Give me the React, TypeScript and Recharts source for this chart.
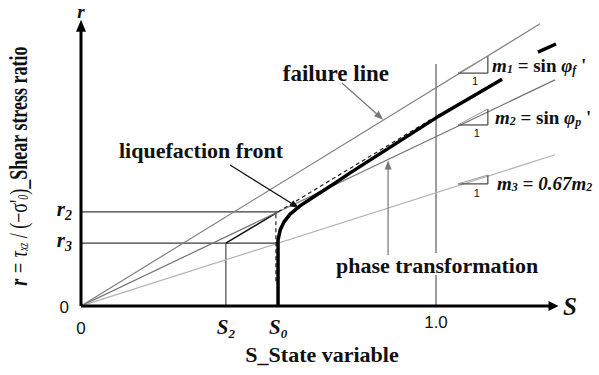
import {
  ComposedChart,
  Line,
  XAxis,
  YAxis,
  ReferenceLine,
  ReferenceDot
} from 'recharts'

// state variable S (x) and shear stress ratio r (y)
const S0 = 0.555
const S2 = 0.408
const R2 = 0.265
const R3 = 0.177

const xTicks = [0, S2, S0, 1.0]
const yTicks = [0, R3, R2]

const failureLine = [{ S: 0, r: 0 }, { S: 1.293, r: 0.795 }]
const phaseLine = [{ S: 0, r: 0 }, { S: 1.335, r: 0.637 }]
const m3Line = [{ S: 0, r: 0 }, { S: 1.335, r: 0.426 }]

const frontCurve = [
  { S: 0.555, r: 0 },
  { S: 0.555, r: 0.186 },
  { S: 0.561, r: 0.214 },
  { S: 0.572, r: 0.237 },
  { S: 0.589, r: 0.259 },
  { S: 0.617, r: 0.282 },
  { S: 0.659, r: 0.31 },
  { S: 0.715, r: 0.346 },
  { S: 0.758, r: 0.375 },
  { S: 1.0, r: 0.53 },
  { S: 1.186, r: 0.639 }
]
const frontTail = [{ S: 1.287, r: 0.715 }, { S: 1.338, r: 0.738 }]
const asymptote = [{ S: S0, r: R2 }, { S: 0.985, r: 0.525 }]
const dashedDrop = [{ S: 0.549, r: 0.07 }, { S: 0.549, r: R2 }]

const SERIF = '"Liberation Serif", "Times New Roman", serif'
const SANS = '"Liberation Sans", Arial, sans-serif'
const NB = '\u00a0'

type Pt = [number, number]

const arrowShape = (color: string, width: number, len = 10, half = 4) => (p: any) => {
  const { x1, y1, x2, y2 } = p
  const a = Math.atan2(y2 - y1, x2 - x1)
  const c = Math.cos(a)
  const s = Math.sin(a)
  const bx = x2 - len * c
  const by = y2 - len * s
  return (
    <g>
      <line x1={x1} y1={y1} x2={bx + c} y2={by + s} stroke={color} strokeWidth={width} />
      <polygon
        points={`${x2},${y2} ${bx - half * s},${by + half * c} ${bx + half * s},${by - half * c}`}
        fill={color}
      />
    </g>
  )
}

const seg = (id: string, a: Pt, b: Pt, stroke: string, width: number, shape?: any) => (
  <ReferenceLine
    key={id}
    segment={[{ x: a[0], y: a[1] }, { x: b[0], y: b[1] }]}
    stroke={stroke}
    strokeWidth={width}
    ifOverflow="visible"
    shape={shape}
  />
)

const note = (id: string, S: number, r: number, draw: (cx: number, cy: number) => any) => (
  <ReferenceDot
    key={id}
    x={S}
    y={r}
    r={0}
    ifOverflow="visible"
    shape={(p: any) => draw(p.cx, p.cy)}
  />
)

const boldText = (txt: string, size = 22) => (cx: number, cy: number) => (
  <text x={cx} y={cy} textAnchor="middle" dominantBaseline="central"
    fontFamily={SERIF} fontWeight="bold" fontSize={size} fill="#111">
    {txt}
  </text>
)

const slopeText = (sub: string, rhs: any) => (cx: number, cy: number) => (
  <text x={cx} y={cy} dominantBaseline="central" fontFamily={SERIF} fontWeight="bold" fontSize={19} fill="#111">
    <tspan fontStyle="italic">m</tspan>
    <tspan fontStyle="italic" fontSize={12} dy={4}>{sub}</tspan>
    <tspan dy={-4}>{NB}={NB}</tspan>
    {rhs}
  </text>
)

const sinPhi = (sub: string) => [
  <tspan key="a">sin{NB}</tspan>,
  <tspan key="b" fontStyle="italic">φ</tspan>,
  <tspan key="c" fontStyle="italic" fontSize={12} dy={5}>{sub}</tspan>,
  <tspan key="d" dy={-5}>{NB}'</tspan>
]

const xTick = (p: any) => {
  const v = p.payload.value
  const { x, y } = p
  if (v === 0) {
    return <text x={x} y={y + 22} textAnchor="middle" dominantBaseline="central" fontFamily={SANS} fontSize={17} fill="#111">0</text>
  }
  if (v === 1) {
    return <text x={x} y={y + 16} textAnchor="middle" dominantBaseline="central" fontFamily={SANS} fontSize={17} fill="#111">1.0</text>
  }
  const sub = v === S2 ? '2' : '0'
  return (
    <text x={x} y={y + 28} textAnchor="middle" fontFamily={SERIF} fontWeight="bold" fontStyle="italic" fontSize={21} fill="#111">
      S<tspan fontSize={13} dy={4}>{sub}</tspan>
    </text>
  )
}

const yTick = (p: any) => {
  const v = p.payload.value
  const { x, y } = p
  if (v === 0) {
    return <text x={x - 12} y={y + 1} textAnchor="end" dominantBaseline="central" fontFamily={SANS} fontSize={17} fill="#111">0</text>
  }
  const sub = v === R2 ? '2' : '3'
  return (
    <text x={x - 9} y={y + 4} textAnchor="end" fontFamily={SERIF} fontWeight="bold" fontStyle="italic" fontSize={21} fill="#111">
      r<tspan fontSize={14} dy={4}>{sub}</tspan>
    </text>
  )
}

// the original label is squeezed along its length, so stretch the glyph height
const yLabel = (cx: number, cy: number) => (
  <text x={0} y={0} transform={`translate(${cx} ${cy}) rotate(-90) scale(1 1.4)`} textAnchor="middle" dominantBaseline="central"
    fontFamily={SERIF} fontSize={18} fill="#111">
    <tspan fontStyle="italic" fontWeight="bold">r</tspan>
    <tspan fontStyle="italic">{NB}={NB}τ</tspan>
    <tspan fontStyle="italic" fontSize={10} dy={4}>xz</tspan>
    <tspan dy={-4}>{NB}/{NB}(−σ'</tspan>
    <tspan fontStyle="italic" fontSize={10} dy={4}>0</tspan>
    <tspan dy={-4}>)</tspan>
    <tspan fontWeight="bold">_Shear stress ratio</tspan>
  </text>
)

const one = (cx: number, cy: number) => (
  <text x={cx} y={cy} textAnchor="middle" dominantBaseline="central" fontFamily={SANS} fontSize={11} fill="#111">1</text>
)

function App(): JSX.Element {
  return (
    <div style={{ position: 'absolute', left: 0, top: 0, background: '#fff' }}>
      <ComposedChart width={599} height={375} margin={{ top: 22, right: 40.5, left: 21, bottom: 39 }}>
        <XAxis
          type="number"
          dataKey="S"
          domain={[0, 1.345]}
          allowDataOverflow
          ticks={xTicks}
          interval={0}
          tick={xTick}
          tickLine={false}
          tickSize={0}
          tickMargin={0}
          axisLine={false}
          height={30}
        />
        <YAxis
          type="number"
          dataKey="r"
          domain={[0, 0.8]}
          allowDataOverflow
          ticks={yTicks}
          interval={0}
          tick={yTick}
          tickLine={false}
          tickSize={0}
          tickMargin={0}
          axisLine={false}
          width={60}
        />

        {seg('r2h', [0, R2], [S0, R2], '#3a3a3a', 1.3)}
        {seg('r3h', [0, R3], [S0, R3], '#3a3a3a', 1.3)}
        {seg('s2v', [S2, 0], [S2, R3], '#555', 1.3)}
        {seg('s2s0', [S2, R3], [S0, R2], '#111', 1.5)}
        {seg('one-lo', [1.0, 0], [1.0, 0.087], '#6a6a6a', 1.3)}
        {seg('one-hi', [1.0, 0.149], [1.0, 0.682], '#6a6a6a', 1.3)}

        <Line data={failureLine} dataKey="r" type="linear" stroke="#808080" strokeWidth={1.2} dot={false} isAnimationActive={false} />
        <Line data={phaseLine} dataKey="r" type="linear" stroke="#737373" strokeWidth={1.2} dot={false} isAnimationActive={false} />
        <Line data={m3Line} dataKey="r" type="linear" stroke="#b3b3b3" strokeWidth={1.2} dot={false} isAnimationActive={false} />
        <Line data={dashedDrop} dataKey="r" type="linear" stroke="#222" strokeWidth={1.2} strokeDasharray="4 3" dot={false} isAnimationActive={false} />
        <Line data={asymptote} dataKey="r" type="linear" stroke="#222" strokeWidth={1.2} strokeDasharray="4 3" dot={false} isAnimationActive={false} />
        <Line data={frontCurve} dataKey="r" type="linear" stroke="#000" strokeWidth={3.5} strokeLinejoin="round" dot={false} isAnimationActive={false} />
        <Line data={frontTail} dataKey="r" type="linear" stroke="#000" strokeWidth={3.5} dot={false} isAnimationActive={false} />

        {/* slope triangles */}
        {seg('t1h', [1.062, 0.656], [1.146, 0.656], '#444', 1.2)}
        {seg('t1v', [1.146, 0.656], [1.146, 0.704], '#444', 1.2)}
        {seg('t1d', [1.062, 0.656], [1.146, 0.704], '#999', 1)}
        {seg('t2h', [1.062, 0.51], [1.146, 0.51], '#444', 1.2)}
        {seg('t2v', [1.146, 0.51], [1.146, 0.555], '#444', 1.2)}
        {seg('t2d', [1.062, 0.51], [1.146, 0.555], '#999', 1)}
        {seg('t3h', [1.062, 0.344], [1.146, 0.344], '#444', 1.2)}
        {seg('t3v', [1.146, 0.344], [1.146, 0.369], '#444', 1.2)}
        {seg('t3d', [1.062, 0.344], [1.146, 0.369], '#999', 1)}

        {/* axes with arrowheads */}
        {seg('xaxis', [0, 0], [1.345, 0], '#000', 3, arrowShape('#000', 3, 10, 5))}
        {seg('yaxis', [0, 0], [0, 0.806], '#000', 3, arrowShape('#000', 3, 12, 5))}

        {/* callout arrows */}
        {seg('a-fail', [0.735, 0.628], [0.851, 0.525], '#777', 1.2, arrowShape('#777', 1.2, 9, 3.5))}
        {seg('a-liq', [0.42, 0.397], [0.614, 0.276], '#111', 1.3, arrowShape('#111', 1.3, 9, 3.5))}
        {seg('a-phase', [0.865, 0.144], [0.865, 0.41], '#777', 1.2, arrowShape('#777', 1.2, 9, 3.5))}

        {note('failure', 0.718, 0.656, boldText('failure line', 23))}
        {note('liq', 0.338, 0.439, boldText('liquefaction front'))}
        {note('phase', 1.003, 0.115, boldText('phase transformation'))}
        {note('xlabel', 0.679, -0.138, boldText('S_State variable'))}
        {note('ylabel', -0.178, 0.394, yLabel)}
        {note('rname', 0, 0.83, (cx, cy) => (
          <text x={cx} y={cy} textAnchor="middle" dominantBaseline="central" fontFamily={SERIF} fontWeight="bold" fontStyle="italic" fontSize={19} fill="#111">r</text>
        ))}
        {note('sname', 1.377, 0, (cx, cy) => (
          <text x={cx} y={cy} textAnchor="middle" dominantBaseline="central" fontFamily={SERIF} fontWeight="bold" fontStyle="italic" fontSize={25} fill="#111">S</text>
        ))}
        {note('m1', 1.158, 0.679, slopeText('1', sinPhi('f')))}
        {note('m2', 1.166, 0.532, slopeText('2', sinPhi('p')))}
        {note('m3', 1.172, 0.346, (cx, cy) => (
          <text x={cx} y={cy} dominantBaseline="central" fontFamily={SERIF} fontWeight="bold" fontStyle="italic" fontSize={19} fill="#111">
            m<tspan fontSize={12} dy={4}>3</tspan>
            <tspan dy={-4}>{NB}={NB}0.67m</tspan>
            <tspan fontSize={12} dy={4}>2</tspan>
          </text>
        ))}
        {note('one1', 1.11, 0.634, one)}
        {note('one2', 1.115, 0.487, one)}
        {note('one3', 1.115, 0.318, one)}
      </ComposedChart>
    </div>
  )
}

export default App
